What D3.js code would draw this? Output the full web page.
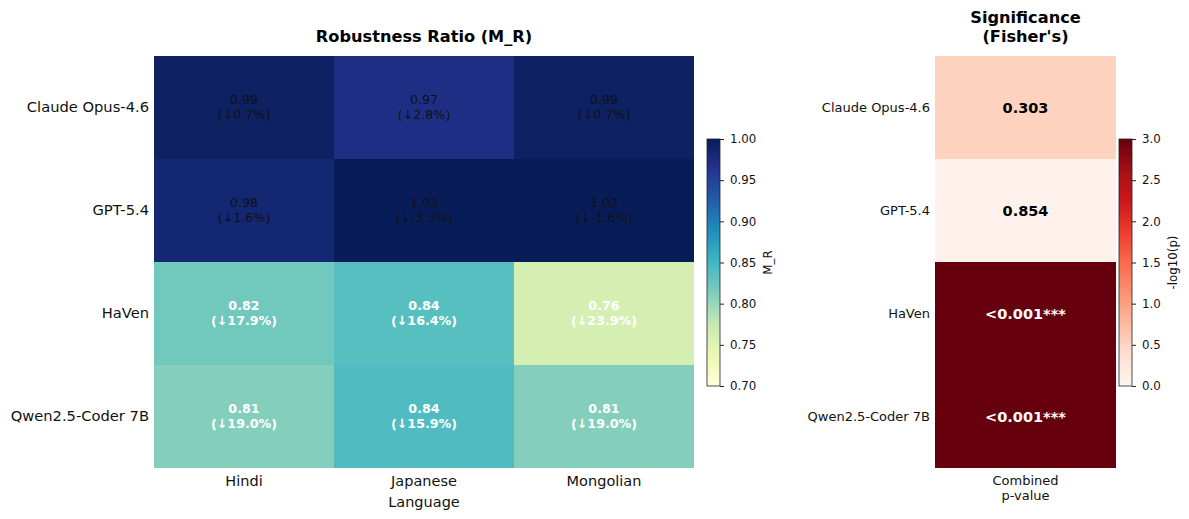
<!DOCTYPE html>
<html>
<head>
<meta charset="utf-8">
<script src="https://cdn.jsdelivr.net/npm/d3@7"></script>
<style>
  body { margin: 0; background: #fff; }
  svg { display: block; font-family: "DejaVu Sans", sans-serif; }
</style>
</head>
<body>
<svg width="1189" height="519"></svg>
<script>
const width = 1189;
const height = 519;

const models = ["Claude Opus-4.6", "GPT-5.4", "HaVen", "Qwen2.5-Coder 7B"];
const languages = ["Hindi", "Japanese", "Mongolian"];

// robustness ratio per model (rows) x language (cols)
const ratio = [
  [0.993, 0.972, 0.993],
  [0.984, 1.033, 1.016],
  [0.821, 0.836, 0.761],
  [0.810, 0.841, 0.810]
];
// drop labels (percent), as printed in the cells
const drop = [
  ["0.7", "2.8", "0.7"],
  ["1.6", "-3.3", "-1.6"],
  ["17.9", "16.4", "23.9"],
  ["19.0", "15.9", "19.0"]
];

const pValues = [0.303, 0.854, 0.001, 0.001];
const pLabels = ["0.303", "0.854", "<0.001***", "<0.001***"];

const mrTicks = [0.70, 0.75, 0.80, 0.85, 0.90, 0.95, 1.00];
const pTicks = [0.0, 0.5, 1.0, 1.5, 2.0, 2.5, 3.0];

const ylgnbu = ["#ffffd9", "#edf8b1", "#c7e9b4", "#7fcdbb", "#41b6c4", "#1d91c0", "#225ea8", "#253494", "#081d58"];
const reds = ["#fff5f0", "#fee0d2", "#fcbba1", "#fc9272", "#fb6a4a", "#ef3b2c", "#cb181d", "#a50f15", "#67000d"];

const svg = d3.select("svg");

function cmap(colors, lo, hi) {
  return d3.scaleLinear()
    .domain(d3.range(colors.length).map(i => lo + (hi - lo) * i / (colors.length - 1)))
    .range(colors)
    .clamp(true);
}

const mrColor = cmap(ylgnbu, 0.7, 1.0);
const pColor = cmap(reds, 0, 3);

const plotTop = 56, plotBottom = 468;

// ---------- left heatmap ----------
const x = d3.scaleBand().domain(languages).range([154, 694]);
const y = d3.scaleBand().domain(models).range([plotTop, plotBottom]);

const cells = [];
models.forEach((m, i) => languages.forEach((l, j) => {
  cells.push({ model: m, lang: l, v: ratio[i][j], drop: drop[i][j] });
}));

const left = svg.append("g");

left.selectAll("rect")
  .data(cells)
  .enter()
  .append("rect")
  .attr("x", d => x(d.lang))
  .attr("y", d => y(d.model))
  .attr("width", x.bandwidth())
  .attr("height", y.bandwidth())
  .attr("fill", d => mrColor(d.v))
  .attr("shape-rendering", "crispEdges");

const cellText = left.selectAll("text.cell")
  .data(cells)
  .enter()
  .append("text")
  .attr("class", "cell")
  .attr("text-anchor", "middle")
  .attr("font-size", 12.7)
  .attr("font-weight", d => d.v < 0.9 ? "bold" : "normal")
  .attr("fill", d => d.v < 0.9 ? "#fff" : "#111");

cellText.append("tspan")
  .attr("x", d => x(d.lang) + x.bandwidth() / 2)
  .attr("y", d => y(d.model) + y.bandwidth() / 2 - 7.5)
  .attr("dy", "0.35em")
  .text(d => d.v.toFixed(2));

cellText.append("tspan")
  .attr("x", d => x(d.lang) + x.bandwidth() / 2)
  .attr("y", d => y(d.model) + y.bandwidth() / 2 + 7.5)
  .attr("dy", "0.35em")
  .text(d => `(\u2193${d.drop}%)`);

const xAxis = left.append("g")
  .attr("transform", `translate(0,${plotBottom})`)
  .call(d3.axisBottom(x).tickSize(0).tickPadding(8));
xAxis.select(".domain").remove();
xAxis.selectAll("text").attr("font-size", 14.5).attr("fill", "#111").attr("font-family", "DejaVu Sans");

const yAxis = left.append("g")
  .attr("transform", "translate(154,0)")
  .call(d3.axisLeft(y).tickSize(0).tickPadding(5));
yAxis.select(".domain").remove();
yAxis.selectAll("text").attr("font-size", 14.7).attr("fill", "#111").attr("font-family", "DejaVu Sans");

left.append("text")
  .attr("x", 424)
  .attr("y", 502)
  .attr("dy", "0.35em")
  .attr("text-anchor", "middle")
  .attr("font-size", 14.5)
  .attr("fill", "#111")
  .text("Language");

left.append("text")
  .attr("x", 424)
  .attr("y", 36)
  .attr("dy", "0.35em")
  .attr("text-anchor", "middle")
  .attr("font-size", 16.2)
  .attr("font-weight", "bold")
  .attr("fill", "#000")
  .text("Robustness Ratio (M_R)");

// ---------- colorbar helper ----------
function colorbar(x0, color, lo, hi, ticks, fmt, label, labelX, id) {
  const cbTop = 139, cbBottom = 386, cbW = 13;
  const scale = d3.scaleLinear().domain([lo, hi]).range([cbBottom, cbTop]);
  const grad = svg.append("defs").append("linearGradient")
    .attr("id", id)
    .attr("x1", 0).attr("y1", 1).attr("x2", 0).attr("y2", 0);
  d3.range(0, 1.0001, 0.05).forEach(t => {
    grad.append("stop")
      .attr("offset", t)
      .attr("stop-color", color(lo + (hi - lo) * t));
  });
  const g = svg.append("g");
  g.append("rect")
    .attr("x", x0).attr("y", cbTop)
    .attr("width", cbW).attr("height", cbBottom - cbTop)
    .attr("fill", `url(#${id})`)
    .attr("stroke", "#222")
    .attr("stroke-width", 0.8);
  const ax = g.append("g")
    .attr("transform", `translate(${x0 + cbW},0)`)
    .call(d3.axisRight(scale).tickValues(ticks).tickFormat(fmt).tickSize(4).tickPadding(6));
  ax.select(".domain").remove();
  ax.selectAll("line").attr("stroke", "#222");
  ax.selectAll("text").attr("font-size", 11.8).attr("fill", "#111").attr("font-family", "DejaVu Sans");
  g.append("text")
    .attr("transform", `translate(${labelX},${(cbTop + cbBottom) / 2}) rotate(-90)`)
    .attr("text-anchor", "middle")
    .attr("dy", "0.35em")
    .attr("font-size", 11.8)
    .attr("fill", "#111")
    .text(label);
}

colorbar(707, mrColor, 0.7, 1.0, mrTicks, d3.format(".2f"), "M_R", 768, "gradMR");

// ---------- right heatmap ----------
const pData = models.map((m, i) => ({
  model: m,
  p: pValues[i],
  v: Math.min(3, -Math.log10(pValues[i])),
  label: pLabels[i]
}));

const x2 = d3.scaleBand().domain(["Combined p-value"]).range([935, 1116]);
const right = svg.append("g");

right.selectAll("rect")
  .data(pData)
  .enter()
  .append("rect")
  .attr("x", x2("Combined p-value"))
  .attr("y", d => y(d.model))
  .attr("width", x2.bandwidth())
  .attr("height", y.bandwidth())
  .attr("fill", d => pColor(d.v))
  .attr("shape-rendering", "crispEdges");

right.selectAll("text.cell")
  .data(pData)
  .enter()
  .append("text")
  .attr("class", "cell")
  .attr("x", x2("Combined p-value") + x2.bandwidth() / 2)
  .attr("y", d => y(d.model) + y.bandwidth() / 2)
  .attr("dy", "0.35em")
  .attr("text-anchor", "middle")
  .attr("font-size", 14.5)
  .attr("font-weight", "bold")
  .attr("fill", d => d.v > 1.5 ? "#fff" : "#000")
  .text(d => d.label);

const yAxis2 = right.append("g")
  .attr("transform", "translate(935,0)")
  .call(d3.axisLeft(y).tickSize(0).tickPadding(5));
yAxis2.select(".domain").remove();
yAxis2.selectAll("text").attr("font-size", 13).attr("fill", "#111").attr("font-family", "DejaVu Sans");

const xlab = right.append("text")
  .attr("text-anchor", "middle")
  .attr("font-size", 13)
  .attr("fill", "#111");
xlab.append("tspan").attr("x", 1025.5).attr("y", 480).attr("dy", "0.35em").text("Combined");
xlab.append("tspan").attr("x", 1025.5).attr("y", 495).attr("dy", "0.35em").text("p-value");

const title2 = right.append("text")
  .attr("text-anchor", "middle")
  .attr("font-size", 16.2)
  .attr("font-weight", "bold")
  .attr("fill", "#000");
title2.append("tspan").attr("x", 1025.5).attr("y", 17).attr("dy", "0.35em").text("Significance");
title2.append("tspan").attr("x", 1025.5).attr("y", 36).attr("dy", "0.35em").text("(Fisher's)");

colorbar(1119, pColor, 0, 3, pTicks, d3.format(".1f"), "-log10(p)", 1173, "gradP");
</script>
</body>
</html>
